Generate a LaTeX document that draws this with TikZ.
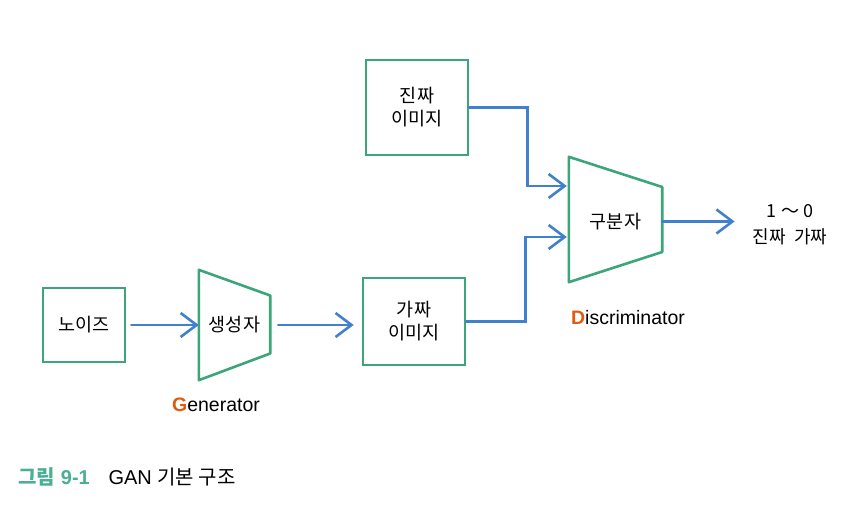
\documentclass[tikz,border=0pt]{standalone}
\usepackage{fontspec}
\setmainfont{Liberation Sans}
\newfontfamily\kr{Noto Sans CJK KR}
\usetikzlibrary{arrows.meta,calc}
\definecolor{boxgreen}{RGB}{60,165,122}
\definecolor{arrblue}{RGB}{64,128,204}
\definecolor{gorange}{RGB}{224,90,16}
\definecolor{capteal}{RGB}{75,175,148}
\begin{document}
\begin{tikzpicture}[x=1pt,y=-1pt,
  box/.style={draw=boxgreen,line width=2.6pt,inner sep=0pt},
  ghost/.style={inner sep=0pt},
  lbl/.style={font=\kr\fontsize{18.5}{23}\selectfont,align=center},
  trap/.style={draw=boxgreen,line width=2.6pt,line join=round},
  arr/.style={draw=arrblue,line width=2.6pt,line cap=round,
    -{Straight Barb[length=16pt,width=24pt,line width=2.6pt]}},
  eng/.style={font=\fontsize{19.5}{23}\selectfont},
  capstyle/.style={anchor=base west,font=\fontsize{20}{24}\selectfont}
]
\useasboundingbox (0,0) rectangle (848,508);

% nodes
\node[box,minimum width=82pt,minimum height=74pt,lbl] (noise) at (84,325) {노이즈};
\node[ghost,minimum width=71pt,minimum height=110pt,lbl] (gen) at (234.5,325) {생성자};
\node[box,minimum width=102pt,minimum height=95pt,lbl] (real) at (417,107.5) {진짜\\이미지};
\node[box,minimum width=102pt,minimum height=87pt,lbl] (fake) at (414,321.5) {가짜\\이미지};
\node[ghost,minimum width=93pt,minimum height=125pt,lbl] (disc) at (615.5,221.5) {구분자};
\node[ghost,lbl,font=\kr\fontsize{18}{26}\selectfont] (out) at (790,225) {1 ～ 0\\진짜 \ 가짜};

% trapezoids
\draw[trap] ($(gen.north west)$) -- ($(gen.east)+(0,-29.5)$) -- ($(gen.east)+(0,28.5)$) -- (gen.south west) -- cycle;
\draw[trap] ($(disc.north west)+(0,-2)$) -- ($(disc.east)+(0,-34.5)$) -- ($(disc.east)+(0,30.5)$) -- ($(disc.south west)+(0,-2)$) -- cycle;

% labels
\node[eng] (genlbl) at (216,405) {{\bfseries\color{gorange}G}enerator};
\node[eng] (disclbl) at (628,318) {{\bfseries\color{gorange}D}iscriminator};

% connector targets
\coordinate (d1) at ($(disc.west)+(-2,-35.5)$);
\coordinate (d2) at ($(disc.west)+(-2,15.5)$);

% arrows
\draw[arr,shorten <=5pt] (noise.east) -- (gen.west);
\draw[arr,shorten <=8pt,shorten >=8pt] (gen.east) -- (gen.east -| fake.west);
\draw[arr] (real.east) -- ++(58,0) |- (d1);
\draw[arr] (fake.east) -- ++(59,0) |- (d2);
\draw[arr,shorten >=18pt] (disc.east) -- (disc.east -| out.west);

% caption
\node[capstyle] (capnum) at (15,484) {\color{capteal}{\kr\bfseries 그림} \bfseries 9-1};
\node[capstyle] (captxt) at (105,484) {GAN {\kr 기본 구조}};
\end{tikzpicture}
\end{document}
